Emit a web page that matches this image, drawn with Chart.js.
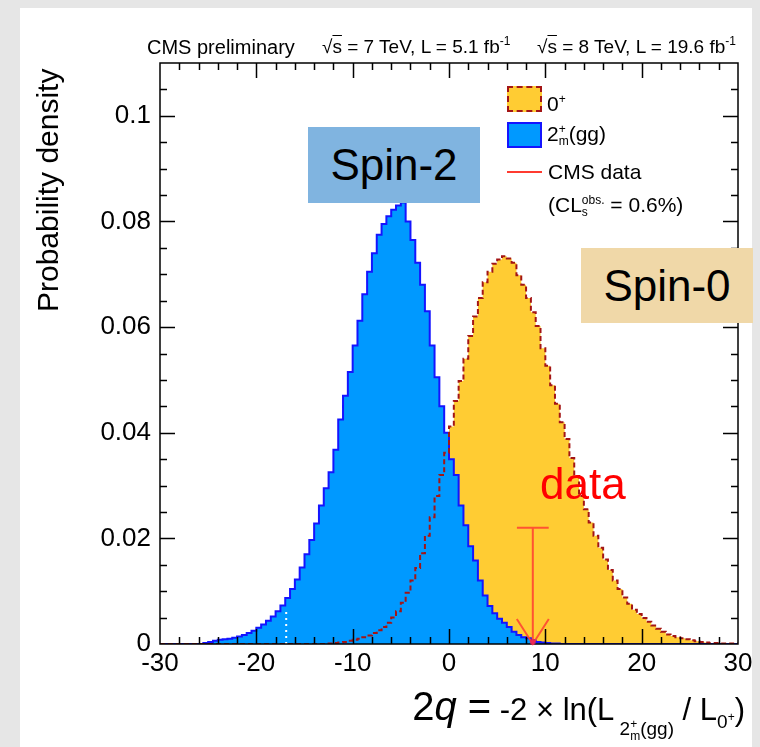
<!DOCTYPE html>
<html>
<head>
<meta charset="utf-8">
<script src="https://cdn.jsdelivr.net/npm/chart.js@4.4.0/dist/chart.umd.min.js"></script>
<style>
  html, body { margin: 0; padding: 0; }
  body { width: 760px; height: 747px; position: relative; overflow: hidden; background: #e6e6e6;
         font-family: 'Liberation Sans', Arial, sans-serif; }
  #paper { position: absolute; left: 20px; top: 8px; width: 732px; height: 739px; background: #fff; }
  #plot { position: absolute; left: 0; top: 0; }
  .lbl { position: absolute; white-space: nowrap; color: #000; }
  .hdr { font-size: 19px; line-height: 20px; }
  .hdr sup { font-size: 12px; vertical-align: 8px; line-height: 0; }
  .ov { text-decoration: overline; }
  .leg { font-size: 21px; line-height: 24px; }
  .stack { display: inline-flex; flex-direction: column; vertical-align: middle; line-height: 1; }
  .sw { position: absolute; box-sizing: border-box; }
  .note { position: absolute; display: flex; align-items: center; justify-content: center;
          font-size: 44px; color: #000; }
</style>
</head>
<body>
<div id="paper"></div>
<canvas id="plot" width="760" height="747"></canvas>

<div class="lbl hdr" style="left:147px;top:37px;font-size:20px">CMS preliminary</div>
<div class="lbl hdr" style="left:322px;top:37px">&radic;<span class="ov">s</span> = 7 TeV, L = 5.1 fb<sup>-1</sup></div>
<div class="lbl hdr" style="left:537px;top:37px">&radic;<span class="ov">s</span> = 8 TeV, L = 19.6 fb<sup>-1</sup></div>

<div class="lbl" style="left:33px;top:312px;font-size:30px;line-height:30px;transform-origin:0 0;transform:rotate(-90deg)">Probability density</div>

<div class="lbl" style="right:15px;top:684px;line-height:44px">
  <span style="font-size:40px">2<i>q</i> =</span><span style="font-size:31px"> -2 &times; ln(L</span><span style="font-size:19px;position:relative;top:15px">&nbsp;2<span class="stack" style="font-size:12px"><span>+</span><span>m</span></span>(gg)</span><span style="font-size:31px"> / L</span><span style="font-size:19px;position:relative;top:8px">0<sup style="font-size:12px">+</sup></span><span style="font-size:31px">)</span>
</div>

<!-- legend -->
<div class="sw" style="left:507px;top:86px;width:35px;height:26px;background:#ffcc33;border:2px dashed #a31515"></div>
<div class="lbl leg" style="left:547px;top:87px">0<sup style="font-size:12px">+</sup></div>
<div class="sw" style="left:507px;top:122px;width:35px;height:26px;background:#0099ff;border:2px solid #1414ff"></div>
<div class="lbl leg" style="left:547px;top:122px">2<span class="stack" style="font-size:12px"><span>+</span><span>m</span></span>(gg)</div>
<div class="sw" style="left:507px;top:171px;width:35px;height:2px;background:#ff3b30"></div>
<div class="lbl leg" style="left:548px;top:160px">CMS data</div>
<div class="lbl leg" style="left:548px;top:193px">(CL<span class="stack" style="font-size:12px"><span>obs.</span><span>s</span></span> = 0.6%)</div>

<!-- slide annotations -->
<div class="note" style="left:308px;top:127px;width:172px;height:76px;background:#80b4e0">Spin-2</div>
<div class="note" style="left:581px;top:248px;width:172px;height:75px;background:#f0d8a8">Spin-0</div>
<div class="lbl" style="left:540px;top:462px;font-size:44px;line-height:44px;color:#ff0000">data</div>

<script>
// histogram binning (bin edges run from -30 to 30)
const binWidth = 0.5;
const xMin = -30;
const xMax = 30;

// 0+ pseudo-experiments, first listed bin starts at -12
const spin0Start = -12;
const spin0Values = [
  0.0001, 0.0002, 0.0003, 0.0004, 0.0006, 0.0008, 0.0010, 0.0013, 0.0016, 0.0021,
  0.0026, 0.0032, 0.0040, 0.0050, 0.0062, 0.0078, 0.0097, 0.0120, 0.0144, 0.0172,
  0.0205, 0.0240, 0.0280, 0.0320, 0.0362, 0.0412, 0.0460, 0.0498, 0.0540, 0.0583,
  0.0620, 0.0655, 0.0685, 0.0705, 0.0720, 0.0728, 0.0734, 0.0730, 0.0722, 0.0698,
  0.0680, 0.0655, 0.0628, 0.0602, 0.0560, 0.0527, 0.0490, 0.0455, 0.0420, 0.0388,
  0.0352, 0.0318, 0.0280, 0.0255, 0.0230, 0.0205, 0.0182, 0.0160, 0.0140, 0.0120,
  0.0104, 0.0088, 0.0076, 0.0065, 0.0057, 0.0049, 0.0042, 0.0035, 0.0029, 0.0023,
  0.0018, 0.0015, 0.0013, 0.0011, 0.0009, 0.0007, 0.0005, 0.0004, 0.0003, 0.0002,
  0.0002, 0.0001, 0.0001, 0.0001
];

// 2+m(gg) pseudo-experiments, first listed bin starts at -25
const spin2Start = -25;
const spin2Values = [
  0.0002, 0.0004, 0.0006, 0.0008, 0.0009, 0.0010, 0.0012, 0.0014, 0.0017, 0.0021,
  0.0025, 0.0031, 0.0037, 0.0044, 0.0052, 0.0062, 0.0073, 0.0087, 0.0104, 0.0122,
  0.0145, 0.0170, 0.0197, 0.0228, 0.0262, 0.0295, 0.0325, 0.0368, 0.0425, 0.0470,
  0.0515, 0.0565, 0.0612, 0.0662, 0.0705, 0.0740, 0.0775, 0.0795, 0.0810, 0.0822,
  0.0830, 0.0836, 0.0800, 0.0765, 0.0722, 0.0680, 0.0630, 0.0565, 0.0505, 0.0450,
  0.0400, 0.0350, 0.0320, 0.0262, 0.0225, 0.0185, 0.0158, 0.0120, 0.0092, 0.0072,
  0.0058, 0.0048, 0.0040, 0.0032, 0.0023, 0.0017, 0.0013, 0.0011, 0.0007, 0.0004,
  0.0003, 0.0002, 0.0001, 0.0001
];

// observed value and its marker
const observed2q = 8.7;
const observedMarkerTop = 0.022;
const observedCapHalf = 1.65;
// white dotted line inside the 2+ distribution
const mirrorLineX = -16.9;
const mirrorLineTop = 0.0068;

const yMax = 0.110;
const yTicks = [0, 0.02, 0.04, 0.06, 0.08, 0.1];
const xTicks = [-30, -20, -10, 0, 10, 20, 30];

// turn a bin list into step points covering the full axis
function histPoints(start, values) {
  const pts = [];
  const nBins = Math.round((xMax - xMin) / binWidth);
  const offset = Math.round((start - xMin) / binWidth);
  for (let i = 0; i < nBins; i++) {
    const k = i - offset;
    const v = (k >= 0 && k < values.length) ? values[k] : 0;
    pts.push({ x: xMin + i * binWidth, y: v });
  }
  pts.push({ x: xMax, y: pts[pts.length - 1].y });
  return pts;
}

const spin0Points = histPoints(spin0Start, spin0Values);
const spin2Points = histPoints(spin2Start, spin2Values);

// ROOT style frame with inward ticks on all four sides
const frameTicks = {
  id: 'frameTicks',
  afterDatasetsDraw(chart) {
    const { ctx, chartArea: a, scales: { x, y } } = chart;
    ctx.save();
    ctx.strokeStyle = '#000';
    ctx.lineWidth = 1.5;
    ctx.beginPath();
    for (let v = xMin + 2; v < xMax; v += 2) {
      const px = Math.round(x.getPixelForValue(v)) + 0.5;
      const len = v % 10 === 0 ? 15 : 7;
      ctx.moveTo(px, a.bottom); ctx.lineTo(px, a.bottom - len);
      ctx.moveTo(px, a.top); ctx.lineTo(px, a.top + len);
    }
    for (let k = 1; k * 0.005 < yMax; k++) {
      const py = Math.round(y.getPixelForValue(k * 0.005)) + 0.5;
      const len = k % 4 === 0 ? 15 : 7;
      ctx.moveTo(a.left, py); ctx.lineTo(a.left + len, py);
      ctx.moveTo(a.right, py); ctx.lineTo(a.right - len, py);
    }
    ctx.stroke();
    ctx.strokeRect(a.left, a.top, a.right - a.left, a.bottom - a.top);
    ctx.restore();
  }
};

// observed data arrow
const dataArrow = {
  id: 'dataArrow',
  afterDatasetsDraw(chart) {
    const { ctx, scales: { x, y } } = chart;
    const px = x.getPixelForValue(observed2q);
    const top = y.getPixelForValue(observedMarkerTop);
    const base = y.getPixelForValue(0);
    const c0 = x.getPixelForValue(observed2q - observedCapHalf);
    const c1 = x.getPixelForValue(observed2q + observedCapHalf);
    ctx.save();
    ctx.strokeStyle = 'rgba(255,70,50,0.9)';
    ctx.lineWidth = 2;
    ctx.beginPath();
    ctx.moveTo(c0, top); ctx.lineTo(c1, top);
    ctx.moveTo(px, top); ctx.lineTo(px, base);
    ctx.moveTo(px - 16, base - 25); ctx.lineTo(px, base); ctx.lineTo(px + 16, base - 25);
    ctx.stroke();
    ctx.fillStyle = 'rgba(240,30,90,0.7)';
    ctx.beginPath();
    ctx.arc(px, base - 2, 3, 0, Math.PI * 2);
    ctx.fill();
    ctx.restore();
  }
};

new Chart(document.getElementById('plot'), {
  type: 'line',
  data: {
    datasets: [
      {
        label: '0+ line',
        data: spin0Points,
        stepped: 'after',
        fill: false,
        borderColor: '#a31515',
        borderWidth: 2,
        borderDash: [5, 3],
        pointRadius: 0,
        order: 0
      },
      {
        label: 'mirror',
        data: [{ x: mirrorLineX, y: 0 }, { x: mirrorLineX, y: mirrorLineTop }],
        fill: false,
        borderColor: '#ffffff',
        borderWidth: 2,
        borderDash: [2, 4],
        pointRadius: 0,
        order: 0
      },
      {
        label: '2+m(gg)',
        data: spin2Points,
        stepped: 'after',
        fill: 'origin',
        backgroundColor: '#0099ff',
        borderColor: '#1414ff',
        borderWidth: 2,
        pointRadius: 0,
        order: 1
      },
      {
        label: '0+',
        data: spin0Points,
        stepped: 'after',
        fill: 'origin',
        backgroundColor: '#ffcc33',
        borderWidth: 0,
        borderColor: 'rgba(0,0,0,0)',
        pointRadius: 0,
        order: 2
      }
    ]
  },
  options: {
    responsive: false,
    animation: false,
    layout: { padding: { left: 0, top: 63, right: 22, bottom: 0 } },
    plugins: { legend: { display: false }, tooltip: { enabled: false } },
    scales: {
      x: {
        type: 'linear',
        min: xMin,
        max: xMax,
        grid: { display: false, drawTicks: false },
        border: { display: false },
        afterFit: s => { s.height = 103; },
        afterBuildTicks: s => { s.ticks = xTicks.map(v => ({ value: v })); },
        ticks: {
          padding: 4,
          color: '#000',
          font: { family: "'Liberation Sans', Arial, sans-serif", size: 26 },
          callback: v => String(v)
        }
      },
      y: {
        min: 0,
        max: yMax,
        grid: { display: false, drawTicks: false },
        border: { display: false },
        afterFit: s => { s.width = 160; },
        afterBuildTicks: s => { s.ticks = yTicks.map(v => ({ value: v })); },
        ticks: {
          padding: 9,
          color: '#000',
          font: { family: "'Liberation Sans', Arial, sans-serif", size: 26 },
          callback: v => v === 0 ? '0' : String(+v.toFixed(2))
        }
      }
    }
  },
  plugins: [frameTicks, dataArrow]
});
</script>
</body>
</html>
